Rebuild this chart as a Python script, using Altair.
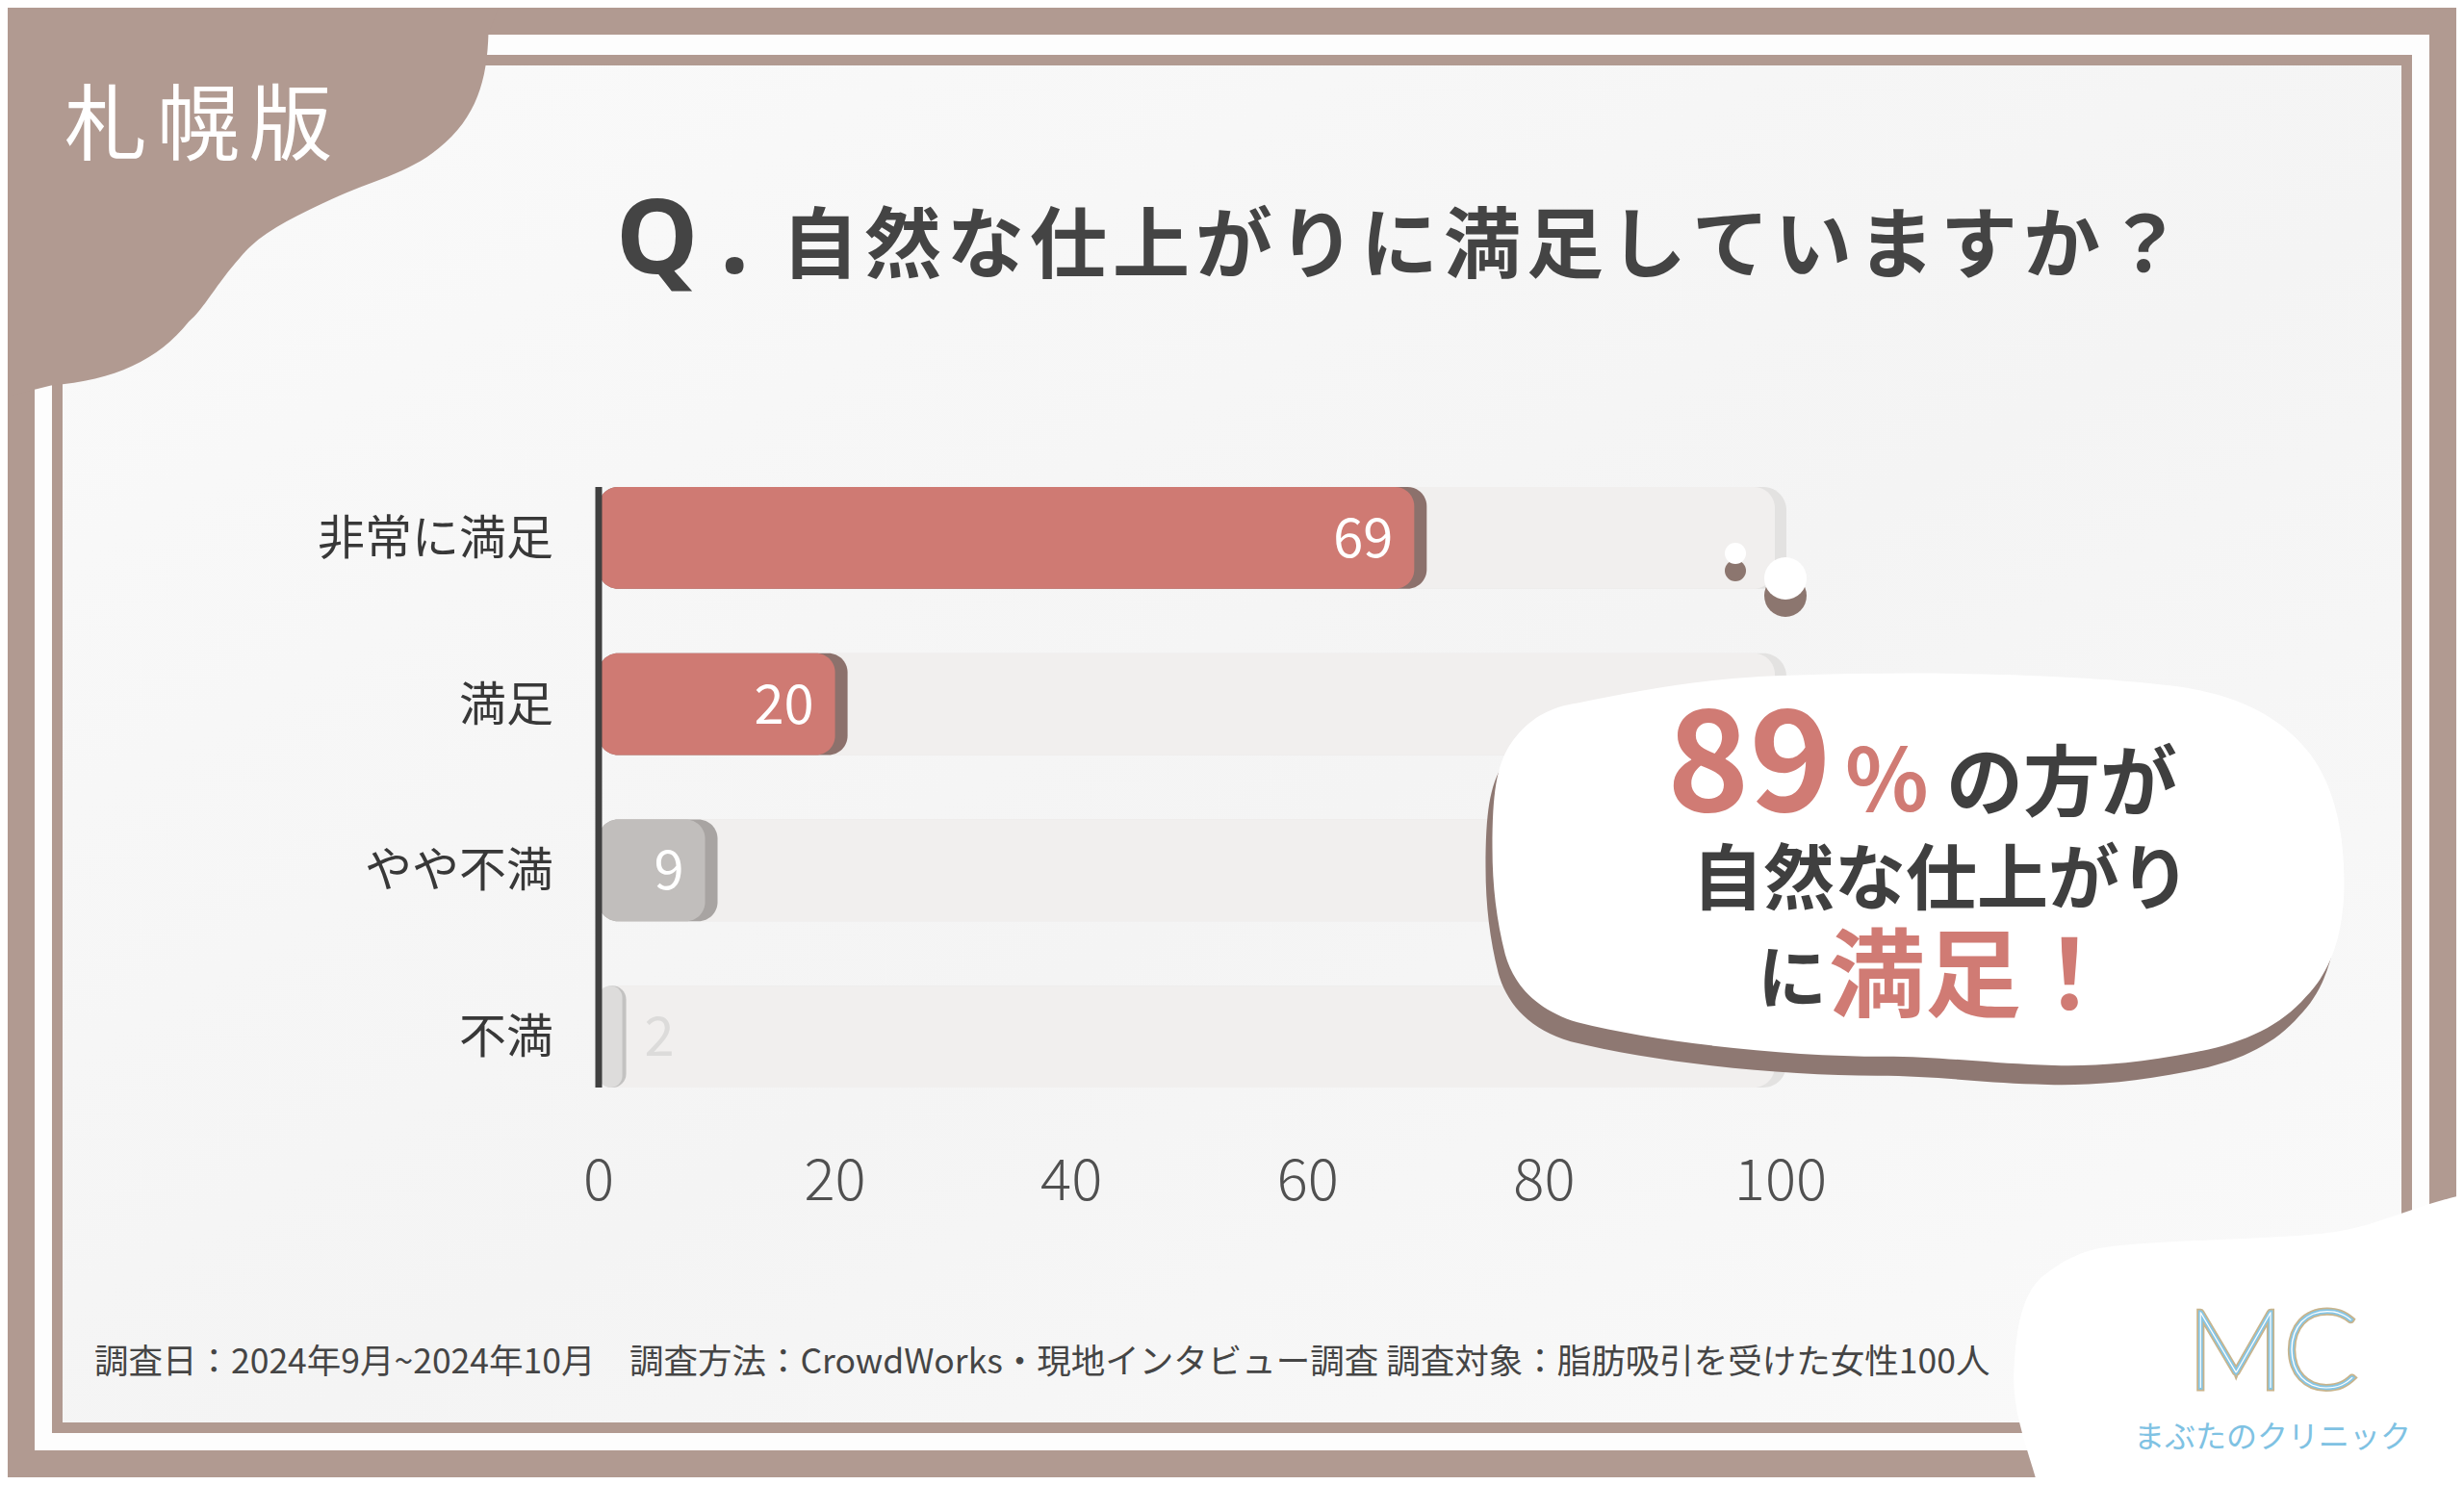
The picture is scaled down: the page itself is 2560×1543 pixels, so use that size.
import altair as alt
import pandas as pd

# ---------------- data ----------------
categories = ["非常に満足", "満足", "やや不満", "不満"]
values = [69, 20, 9, 2]
tick_values = [0, 20, 40, 60, 80, 100]
tick_labels = ["0", "20", "40", "60", "80", "100"]
track_total = [100, 100, 100, 100]

title_q = "Q"
title_dot = "."
title_text = "自然な仕上がりに満足していますか？"
badge_text = "札幌版"
callout_big = "89"
callout_pct = "%"
callout_l1 = "の方が"
callout_l2 = "自然な仕上がり"
callout_l3a = "に"
callout_l3b = "満足！"
footer_text = "調査日：2024年9月~2024年10月　調査方法：CrowdWorks・現地インタビュー調査 調査対象：脂肪吸引を受けた女性100人"
clinic_name = "まぶたのクリニック"
logo_text = "MC"

# ---------------- styles ----------------
BAR_COLORS = ["#cf7a73", "#cf7a73", "#c1bebc", "#dddcdb"]
SHADOW_COLORS = ["#8c716c", "#8c716c", "#a8a4a2", "#c3c2c1"]
TAUPE = "#b19a91"
RED = "#d07b74"
DARK = "#3f3f3f"
FONT = "Noto Sans CJK JP"

W, H = 2544, 1527
O = 8


def P(v):
    return v - O


df = pd.DataFrame({"cat": categories, "value": values, "total": track_total})
tick_df = pd.DataFrame({"t": tick_values, "label": tick_labels})
one = pd.DataFrame({"k": [0]})

xs = alt.Scale(domain=[0, 100], range=[P(622), P(1850)])
ys = alt.Scale(domain=categories, range=[P(506) - 33.5, P(1130) + 33.5],
               paddingInner=0.387, paddingOuter=0.1935)
color_scale = alt.Scale(domain=categories, range=BAR_COLORS)
shadow_scale = alt.Scale(domain=categories, range=SHADOW_COLORS)


def deco_rect(x1, y1, x2, y2, color, **kw):
    return alt.Chart(one).mark_rect(color=color, **kw).encode(
        x=alt.value(P(x1)), x2=alt.value(P(x2)), y=alt.value(P(y1)), y2=alt.value(P(y2)))


def txt(s, x, y, size, color, weight="normal", align="left", font=FONT, **kw):
    return alt.Chart(one).mark_text(text=s, fontSize=size, color=color, fontWeight=weight,
                                    align=align, baseline="alphabetic", font=font, **kw).encode(
        x=alt.value(P(x)), y=alt.value(P(y)))


def spaced(s, x_first, step, y, size, color, weight="normal"):
    # one text per character, centred on evenly spaced positions (letter spacing)
    return [txt(ch, x_first + i * step, y, size, color, weight=weight, align="center")
            for i, ch in enumerate(s)]


def blob(path, cx, cy, width, color):
    return alt.Chart(one).mark_point(shape=path, size=width * width, filled=True, color=color,
                                     opacity=1, strokeWidth=0).encode(
        x=alt.value(P(cx)), y=alt.value(P(cy)))


def dot(cx, cy, r, color):
    return alt.Chart(one).mark_circle(size=(2 * r) ** 2, color=color, opacity=1).encode(
        x=alt.value(P(cx)), y=alt.value(P(cy)))


# ---------------- frame ----------------
card = deco_rect(36, 36, 2524, 1507, "#fdfdfd")
frame = deco_rect(54, 57, 2506, 1489, TAUPE)
inner = alt.Chart(one).mark_rect(
    color=alt.LinearGradient(
        gradient="linear",
        stops=[alt.GradientStop(color="#fafafa", offset=0),
               alt.GradientStop(color="#f4f4f4", offset=0.55),
               alt.GradientStop(color="#fafafa", offset=1)],
        x1=0, x2=1, y1=0, y2=1)
).encode(x=alt.value(P(65)), x2=alt.value(P(2495)), y=alt.value(P(68)), y2=alt.value(P(1478)))

TL_PATH = ("M -1,-0.82 L 0.97,-0.82 L 0.915,-0.68 C 0.91,-0.5 0.87,-0.35 0.72,-0.23 "
           "C 0.6,-0.13 0.45,-0.1 0.3,-0.03 C 0.15,0.04 0.02,0.1 -0.06,0.2 "
           "C -0.15,0.3 -0.2,0.4 -0.26,0.45 C -0.38,0.6 -0.55,0.68 -0.8,0.7 L -1,0.75 Z")
tl_blob = blob(TL_PATH, 265, 215, 530, TAUPE)

badge = spaced(badge_text, 110, 96, 160, 86, "#ffffff")

title_q_mark = txt(title_q, 640, 284, 108, "#444444", weight="bold", font="Noto Sans")
title_dot_mark = txt(title_dot, 748, 284, 108, "#444444", weight="bold", font="Noto Sans")
title2 = spaced(title_text, 852, 86, 282, 80, "#444444", weight="bold")

# ---------------- bars ----------------
base = alt.Chart(df)
Y = alt.Y("cat:N", scale=ys, axis=None)
ZERO = alt.datum(0)

track_shade = base.mark_bar(color="#e3e2e1", cornerRadiusEnd=24, xOffset=6).encode(
    x=alt.X("total:Q", scale=xs, axis=None), x2=ZERO, y=Y)
track = base.mark_bar(color="#f1efee", cornerRadiusEnd=22, xOffset=-6).encode(
    x=alt.X("total:Q", scale=xs, axis=None), x2=ZERO, y=Y)
bar_shadow_big = base.transform_filter("datum.value >= 5").mark_bar(
    cornerRadiusEnd=20, xOffset=13).encode(
    x=alt.X("value:Q", scale=xs, axis=None), x2=ZERO, y=Y,
    fill=alt.Fill("cat:N", scale=shadow_scale, legend=None))
bar_shadow_small = base.transform_filter("datum.value < 5").mark_bar(
    cornerRadiusEnd=20, xOffset=4, color=SHADOW_COLORS[3]).encode(
    x=alt.X("value:Q", scale=xs, axis=None), x2=ZERO, y=Y)
bars = base.mark_bar(cornerRadiusEnd=20).encode(
    x=alt.X("value:Q", scale=xs, axis=None), x2=ZERO, y=Y,
    color=alt.Color("cat:N", scale=color_scale, legend=None))
axis_line = alt.Chart(one).mark_rule(color="#404040", strokeWidth=7).encode(
    x=alt.X(datum=0, type="quantitative", scale=xs), y=alt.value(P(506)), y2=alt.value(P(1130)))

val_in = base.transform_filter("datum.value >= 5").mark_text(
    align="right", baseline="alphabetic", dx=-22, dy=20, fontSize=56, color="#ffffff", font=FONT
).encode(x=alt.X("value:Q", scale=xs), y=alt.Y("cat:N", scale=ys), text="value:Q")
val_out = base.transform_filter("datum.value < 5").mark_text(
    align="left", baseline="alphabetic", dx=23, dy=20, fontSize=56, color="#dcdbda", font=FONT
).encode(x=alt.X("value:Q", scale=xs), y=alt.Y("cat:N", scale=ys), text="value:Q")

cat_labels = base.mark_text(align="right", baseline="alphabetic", dy=17, fontSize=49,
                            color="#383838", font=FONT).encode(
    x=alt.value(P(575)), y=alt.Y("cat:N", scale=ys), text="cat:N")

tick_text = alt.Chart(tick_df).mark_text(align="center", baseline="alphabetic", fontSize=60,
                                         color="#505050", font=FONT, fontWeight=300).encode(
    x=alt.X("t:Q", scale=xs), y=alt.value(P(1247)), text="label:N")

# ---------------- callout ----------------
bub_s1 = dot(1803, 593, 11, "#8c766f")
bub_1 = dot(1803, 575, 11, "#ffffff")
bub_s2 = dot(1855, 619, 22, "#8c766f")
bub_2 = dot(1855, 601, 22, "#ffffff")

CALLOUT_PATH = ("M -1,-0.05 C -1,-0.18 -0.99,-0.24 -0.96,-0.29 C -0.92,-0.35 -0.87,-0.38 -0.8,-0.39 "
                "C -0.65,-0.42 -0.5,-0.45 -0.3,-0.455 C 0,-0.465 0.35,-0.46 0.6,-0.43 "
                "C 0.75,-0.41 0.85,-0.36 0.92,-0.27 C 0.98,-0.19 1,-0.08 1,0.03 "
                "C 1,0.15 0.97,0.24 0.91,0.3 C 0.85,0.37 0.76,0.41 0.65,0.43 "
                "C 0.5,0.46 0.38,0.465 0.29,0.46 C 0.15,0.455 0.05,0.44 -0.08,0.44 "
                "C -0.3,0.44 -0.6,0.41 -0.8,0.36 C -0.9,0.33 -0.95,0.27 -0.97,0.2 "
                "C -0.99,0.12 -1,0.04 -1,-0.05 Z")
call_shadow = blob(CALLOUT_PATH, 1986, 923, 885, "#8e7872")
call_body = blob(CALLOUT_PATH, 1993, 903, 885, "#ffffff")

c_big = txt(callout_big, 1732, 843, 145, RED, weight="bold")
c_pct = txt(callout_pct, 1917, 843, 90, RED, weight="bold")
c_l1 = txt(callout_l1, 2022, 841, 80, DARK, weight="bold")
c_l2 = txt(callout_l2, 2017, 939, 74, DARK, weight="bold", align="center")
c_l3a = txt(callout_l3a, 1898, 1042, 72, DARK, weight="bold", align="right")
c_l3b = txt(callout_l3b, 1900, 1049, 100, RED, weight="bold")

# ---------------- footer & logo ----------------
footer = txt(footer_text, 98, 1427, 35.5, "#454545")

LOGO_PATH = ("M -0.86,0.7 C -0.92,0.45 -1.0,0.3 -0.99,0.1 C -0.98,-0.1 -0.95,-0.25 -0.85,-0.32 "
             "C -0.75,-0.4 -0.65,-0.43 -0.55,-0.44 C -0.2,-0.47 0.2,-0.47 0.4,-0.5 "
             "C 0.6,-0.53 0.75,-0.62 1,-0.67 L 1,0.7 Z")
logo_blob = blob(LOGO_PATH, 2330, 1400, 480, "#ffffff")
mc1 = txt(logo_text, 2361, 1442, 112, "#ffffff", weight=100, align="center", font="Lato",
          stroke="#c8b48c", strokeWidth=7)
mc2 = txt(logo_text, 2361, 1442, 112, "#ffffff", weight=100, align="center", font="Lato",
          stroke="#86c6e6", strokeWidth=3.5)
mc3 = txt(logo_text, 2361, 1442, 112, "#ffffff", weight=100, align="center", font="Lato")
clinic = txt(clinic_name, 2361, 1504, 32, "#7fc2e3", align="center")

layers = [card, frame, inner, tl_blob, *badge, title_q_mark, title_dot_mark, *title2,
          track_shade, track, bar_shadow_big, bar_shadow_small, bars, axis_line,
          val_in, val_out, cat_labels, tick_text,
          bub_s1, bub_1, bub_s2, bub_2,
          call_shadow, call_body, c_big, c_pct, c_l1, c_l2, c_l3a, c_l3b,
          footer, logo_blob, mc1, mc2, mc3, clinic]

chart = alt.layer(*layers).resolve_scale(color="independent", fill="independent").properties(
    width=W, height=H, padding=0, background=TAUPE,
    autosize=alt.AutoSizeParams(type="none"),
).configure_view(strokeWidth=0)

chart.save("out.html", embed_options={"renderer": "svg", "actions": False})
